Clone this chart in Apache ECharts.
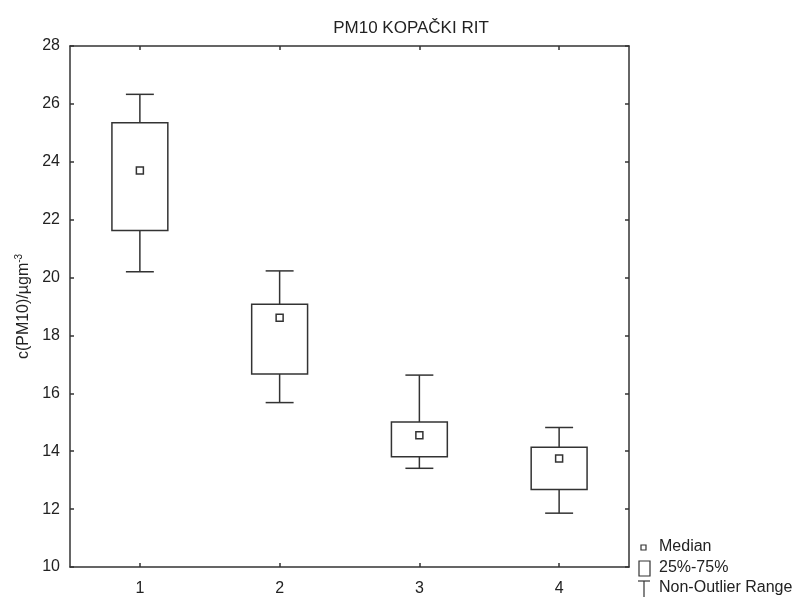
<!DOCTYPE html>
<html>
<head>
<meta charset="utf-8">
<script src="https://cdn.jsdelivr.net/npm/echarts@6/dist/echarts.min.js"></script>
<style>
html,body{margin:0;padding:0;background:#fff;}
#chart{width:797px;height:597px;}
</style>
</head>
<body>
<div id="chart"></div>
<script>
// ---- data ----
const categories = ['1', '2', '3', '4'];
const whiskerLow  = [20.20, 15.68, 13.41, 11.86];
const q1          = [21.63, 16.67, 13.81, 12.68];
const median      = [23.70, 18.61, 14.55, 13.75];
const q3          = [25.35, 19.08, 15.01, 14.14];
const whiskerHigh = [26.33, 20.23, 16.63, 14.82];
const yTicks = { min: 10, max: 28, interval: 2 };
const titleText = 'PM10 KOPAČKI RIT';
const legendLabels = ['Median', '25%-75%', 'Non-Outlier Range'];

const FONT = 'Liberation Sans, Arial, sans-serif';
const INK = '#333';
const TXT = '#222';

const rows = categories.map((c, i) => [i, whiskerLow[i], q1[i], median[i], q3[i], whiskerHigh[i]]);

const chart = echarts.init(document.getElementById('chart'), null, { renderer: 'canvas' });

function renderBox(params, api) {
  const x = api.value(0);
  const band = api.size([1, 0])[0];
  const boxW = band * 0.40;
  const capW = band * 0.20;
  const pLo = api.coord([x, api.value(1)]);
  const pQ1 = api.coord([x, api.value(2)]);
  const pMed = api.coord([x, api.value(3)]);
  const pQ3 = api.coord([x, api.value(4)]);
  const pHi = api.coord([x, api.value(5)]);
  const cx = pQ1[0];
  const ls = { stroke: INK, lineWidth: 1.5, fill: null };
  return {
    type: 'group',
    children: [
      { type: 'line', shape: { x1: cx, y1: pHi[1], x2: cx, y2: pQ3[1] }, style: ls },
      { type: 'line', shape: { x1: cx - capW / 2, y1: pHi[1], x2: cx + capW / 2, y2: pHi[1] }, style: ls },
      { type: 'line', shape: { x1: cx, y1: pQ1[1], x2: cx, y2: pLo[1] }, style: ls },
      { type: 'line', shape: { x1: cx - capW / 2, y1: pLo[1], x2: cx + capW / 2, y2: pLo[1] }, style: ls },
      { type: 'rect', shape: { x: cx - boxW / 2, y: pQ3[1], width: boxW, height: pQ1[1] - pQ3[1] },
        style: { stroke: INK, lineWidth: 1.5, fill: '#fff' } },
      { type: 'rect', shape: { x: cx - 3.5, y: pMed[1] - 3.5, width: 7, height: 7 },
        style: { stroke: INK, lineWidth: 1.5, fill: '#fff' } }
    ]
  };
}

const gridL = 70, gridT = 46, gridR = 168, gridB = 28;

const option = {
  backgroundColor: '#fff',
  animation: false,
  textStyle: { fontFamily: FONT },
  title: {
    text: titleText,
    left: 406, top: 15,
    textAlign: 'center',
    textStyle: { fontFamily: FONT, fontSize: 17, fontWeight: 'normal', color: TXT }
  },
  grid: { left: gridL, top: gridT, right: gridR, bottom: gridB },
  xAxis: [
    {
      type: 'category', data: categories, position: 'bottom', boundaryGap: true,
      axisLine: { show: true, lineStyle: { color: INK, width: 1.5 } },
      axisTick: { show: true, inside: true, alignWithLabel: true, length: 4, lineStyle: { color: INK, width: 1.5 } },
      axisLabel: { fontSize: 16, color: TXT, margin: 14, fontFamily: FONT },
      splitLine: { show: false }
    },
    {
      type: 'category', data: categories, position: 'top', boundaryGap: true,
      axisLine: { show: true, lineStyle: { color: INK, width: 1.5 } },
      axisTick: { show: true, inside: true, alignWithLabel: true, length: 4, lineStyle: { color: INK, width: 1.5 } },
      axisLabel: { show: false },
      splitLine: { show: false }
    }
  ],
  yAxis: [
    {
      type: 'value', position: 'left', min: yTicks.min, max: yTicks.max, interval: yTicks.interval,
      name: 'c(PM10)/µgm{sup|-3}',
      nameLocation: 'middle', nameGap: 37, nameRotate: 90,
      nameTextStyle: {
        fontSize: 16, color: TXT, fontFamily: FONT,
        rich: { sup: { fontSize: 10, verticalAlign: 'top', color: TXT, fontFamily: FONT, padding: [0, 0, 8, 0] } }
      },
      axisLine: { show: true, lineStyle: { color: INK, width: 1.5 } },
      axisTick: { show: true, inside: true, length: 4, lineStyle: { color: INK, width: 1.5 } },
      axisLabel: { fontSize: 16, color: TXT, margin: 10, fontFamily: FONT },
      splitLine: { show: false }
    },
    {
      type: 'value', position: 'right', min: yTicks.min, max: yTicks.max, interval: yTicks.interval,
      axisLine: { show: true, lineStyle: { color: INK, width: 1.5 } },
      axisTick: { show: true, inside: true, length: 4, lineStyle: { color: INK, width: 1.5 } },
      axisLabel: { show: false },
      splitLine: { show: false }
    }
  ],
  series: [{
    type: 'custom',
    xAxisIndex: 0, yAxisIndex: 0,
    data: rows,
    encode: { x: 0, y: [1, 2, 3, 4, 5] },
    renderItem: renderBox,
    silent: true
  }],
  graphic: [
    { type: 'rect', shape: { x: 641, y: 545, width: 5, height: 5 }, style: { stroke: INK, lineWidth: 1.2, fill: '#fff' } },
    { type: 'text', x: 659, y: 547, style: { text: legendLabels[0], fontSize: 16, fill: TXT, fontFamily: FONT, verticalAlign: 'middle' } },
    { type: 'rect', shape: { x: 639, y: 561, width: 11, height: 15 }, style: { stroke: INK, lineWidth: 1.2, fill: '#fff' } },
    { type: 'text', x: 659, y: 568, style: { text: legendLabels[1], fontSize: 16, fill: TXT, fontFamily: FONT, verticalAlign: 'middle' } },
    { type: 'line', shape: { x1: 638, y1: 581, x2: 650, y2: 581 }, style: { stroke: INK, lineWidth: 1.2 } },
    { type: 'line', shape: { x1: 644, y1: 581, x2: 644, y2: 597 }, style: { stroke: INK, lineWidth: 1.2 } },
    { type: 'text', x: 659, y: 588, style: { text: legendLabels[2], fontSize: 16, fill: TXT, fontFamily: FONT, verticalAlign: 'middle' } }
  ]
};

chart.setOption(option);
</script>
</body>
</html>
